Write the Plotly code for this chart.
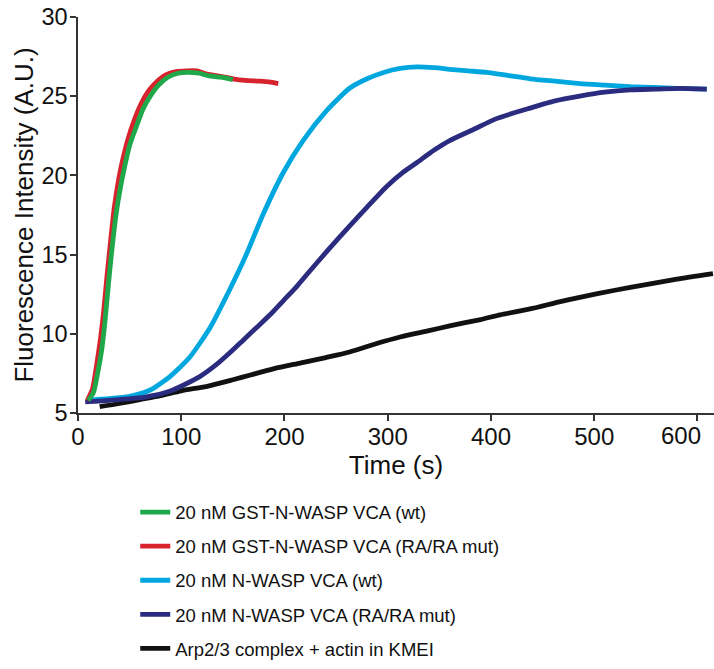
import plotly.graph_objects as go

# Time (s) and fluorescence (A.U.)
gst_wt_t = [10, 15, 19, 23, 26, 29, 32, 37, 41, 45, 50, 56, 63, 70, 78, 87, 97, 107, 117, 126, 138, 150]
gst_wt_y = [5.8, 6.3, 7.5, 9.0, 10.7, 12.8, 14.8, 17.6, 19.2, 20.5, 21.9, 23.0, 24.2, 25.0, 25.7, 26.2, 26.45, 26.5, 26.45, 26.3, 26.2, 26.05]

gst_mut_t = [9, 14, 18, 22, 25, 28, 31, 35, 39, 43, 48, 54, 61, 68, 76, 85, 95, 105, 115, 125, 138, 150, 162, 175, 185, 194]
gst_mut_y = [5.8, 6.5, 8.0, 9.8, 11.5, 13.6, 15.5, 17.9, 19.6, 20.9, 22.2, 23.4, 24.5, 25.3, 25.9, 26.35, 26.55, 26.6, 26.6, 26.4, 26.25, 26.1, 26.0, 25.95, 25.9, 25.8]

nw_wt_t = [8, 30, 50, 70, 89, 108, 128, 147, 163, 179, 199, 218, 241, 263, 280, 296, 312, 328, 345, 360, 378, 396, 417, 438, 462, 486, 510, 535, 558, 580, 609]
nw_wt_y = [5.8, 5.9, 6.05, 6.45, 7.3, 8.5, 10.4, 12.8, 15.0, 17.5, 20.2, 22.2, 24.1, 25.5, 26.1, 26.5, 26.75, 26.85, 26.8, 26.7, 26.6, 26.5, 26.3, 26.1, 25.95, 25.8, 25.7, 25.6, 25.55, 25.5, 25.45]

nw_mut_t = [7, 20, 40, 65, 90, 118, 133, 147, 160, 173, 186, 199, 212, 225, 241, 263, 280, 299, 315, 328, 345, 360, 383, 406, 438, 462, 486, 510, 535, 560, 583, 609]
nw_mut_y = [5.7, 5.75, 5.85, 6.0, 6.4, 7.3, 8.0, 8.8, 9.6, 10.4, 11.2, 12.1, 13.0, 14.0, 15.2, 16.8, 18.0, 19.3, 20.2, 20.8, 21.6, 22.2, 22.9, 23.6, 24.25, 24.7, 25.0, 25.25, 25.4, 25.45, 25.5, 25.45]

ctrl_t = [21, 40, 60, 80, 100, 126, 150, 167, 190, 215, 240, 263, 290, 312, 340, 360, 390, 409, 440, 465, 486, 520, 550, 580, 615]
ctrl_y = [5.4, 5.6, 5.85, 6.1, 6.4, 6.7, 7.1, 7.4, 7.8, 8.15, 8.5, 8.85, 9.4, 9.8, 10.2, 10.5, 10.9, 11.2, 11.6, 12.0, 12.3, 12.75, 13.1, 13.45, 13.8]

x_ticks = [0, 100, 200, 300, 400, 500, 600]
y_ticks = [5, 10, 15, 20, 25, 30]

names = [
    "20 nM GST-N-WASP VCA (wt)",
    "20 nM GST-N-WASP VCA (RA/RA mut)",
    "20 nM N-WASP VCA (wt)",
    "20 nM N-WASP VCA (RA/RA mut)",
    "Arp2/3 complex + actin in KMEI",
]
colors = ["#1fa84a", "#d6232e", "#00a7de", "#2b2b80", "#111111"]

series = [
    (gst_wt_t, gst_wt_y),
    (gst_mut_t, gst_mut_y),
    (nw_wt_t, nw_wt_y),
    (nw_mut_t, nw_mut_y),
    (ctrl_t, ctrl_y),
]

draw_order = [4, 2, 3, 1, 0]

fig = go.Figure()
for i in draw_order:
    t, y = series[i]
    fig.add_trace(go.Scatter(
        x=t, y=y, mode="lines", name=names[i],
        line=dict(color=colors[i], width=4.8, shape="spline", smoothing=0.6),
        legendrank=i + 1, legendgroup=str(i),
    ))

font_family = "Liberation Sans, Arial, Helvetica, sans-serif"
tick_text = [str(v) if v != x_ticks[-1] else "" for v in x_ticks]

fig.update_layout(
    width=714, height=669,
    margin=dict(l=78, r=0, t=17, b=256),
    paper_bgcolor="white", plot_bgcolor="white",
    font=dict(family=font_family, color="#111111", size=22),
    showlegend=True,
    legend=dict(
        x=0.09, y=-0.643, xanchor="left", yanchor="bottom",
        font=dict(size=18.5, color="#111111"),
        tracegroupgap=7, bgcolor="rgba(0,0,0,0)",
    ),
    xaxis=dict(
        range=[0, 616], tickvals=x_ticks, ticktext=tick_text,
        showline=True, linecolor="#333333", linewidth=1.5,
        ticks="outside", ticklen=6, tickwidth=1.5, tickcolor="#333333",
        showgrid=False, zeroline=False,
        tickfont=dict(size=24), ticklabelstandoff=-5,
        title=dict(text="Time (s)", font=dict(size=26), standoff=0),
    ),
    yaxis=dict(
        range=[5, 30], tickvals=y_ticks,
        showline=True, linecolor="#333333", linewidth=1.5,
        ticks="outside", ticklen=6, tickwidth=1.5, tickcolor="#333333",
        showgrid=False, zeroline=False,
        tickfont=dict(size=23.5), ticklabelstandoff=-2,
        title=dict(text="Fluorescence Intensity (A.U.)", font=dict(size=26), standoff=0),
    ),
)

# last tick label, shifted left to stay inside the page as in the reference
fig.add_annotation(
    x=x_ticks[-1], xref="x", y=0, yref="paper",
    text=str(x_ticks[-1]), showarrow=False,
    xanchor="center", yanchor="top", xshift=-16, yshift=-7,
    font=dict(size=24, family=font_family, color="#111111"),
)

fig.write_html("out.html")
